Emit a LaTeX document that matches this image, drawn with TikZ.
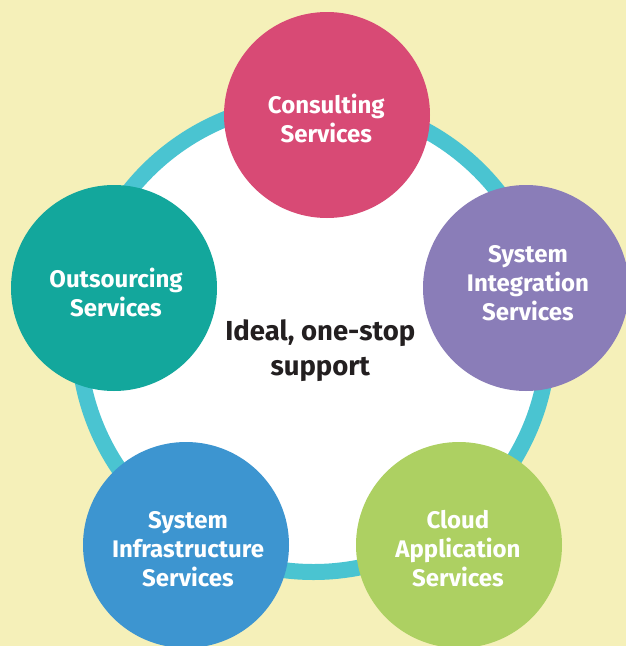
\documentclass[tikz,border=0pt]{standalone}
\usepackage{fontspec}
\setmainfont{Fira Sans}
\definecolor{bgyellow}{RGB}{245,240,185}
\definecolor{ringcyan}{RGB}{74,196,209}
\definecolor{cpink}{RGB}{216,74,117}
\definecolor{cpurple}{RGB}{138,125,184}
\definecolor{cgreen}{RGB}{173,208,98}
\definecolor{cblue}{RGB}{61,149,208}
\definecolor{cteal}{RGB}{19,167,156}
\definecolor{darktext}{RGB}{35,31,32}
\tikzset{
  svc/.style={circle, minimum size=206pt, inner sep=0pt, draw=none},
  svclabel/.style={inner sep=0pt, align=center, text=white,
    font=\fontsize{24}{29}\selectfont\bfseries},
  hublabel/.style={inner sep=0pt, align=center, text=darktext,
    font=\fontsize{27.5}{35}\selectfont\bfseries}
}
\begin{document}
\begin{tikzpicture}[x=1pt,y=-1pt]
\path[fill=bgyellow] (0,0) rectangle (626,646);
\useasboundingbox (0,0) rectangle (626,646);
% hub ring
\node[circle, minimum size=470pt, inner sep=0pt, draw=ringcyan, line width=16pt, fill=white] (hub) at (313.5,337) {};
% service circles
\node[svc, fill=cpink]   (cons)   at (327,115) {};
\node[svc, fill=cpurple] (sysint) at (526,288) {};
\node[svc, fill=cgreen]  (cloud)  at (459,545) {};
\node[svc, fill=cblue]   (infra)  at (186,545) {};
\node[svc, fill=cteal]   (outs)   at (114,288) {};
% labels
\node[svclabel] (consL)   at (326.3,118.6) {Consulting\\Services};
\node[svclabel] (sysintL) at (528,283.5) {System\\Integration\\Services};
\node[svclabel] (cloudL)  at (458,548.8) {Cloud\\Application\\Services};
\node[svclabel] (infraL)  at (188,549.5) {System\\Infrastructure\\Services};
\node[svclabel] (outsL)   at (116,292) {Outsourcing\\Services};
\node[hublabel] (hubL)    at (320.3,350.5) {Ideal, one-stop\\support};
\end{tikzpicture}
\end{document}
